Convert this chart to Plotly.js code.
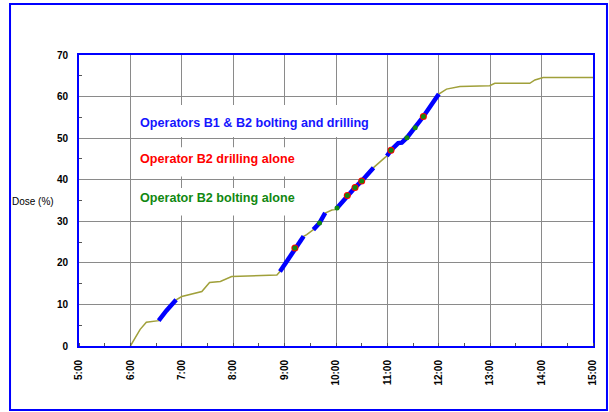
<!DOCTYPE html>
<html>
<head>
<meta charset="utf-8">
<script src="https://cdn.plot.ly/plotly-3.0.1.min.js"></script>
<style>html,body{margin:0;padding:0;background:#fff;}#chart{width:609px;height:412px;}</style>
</head>
<body>
<div id="chart"></div>
<script>
// Cumulative dose (%) vs time of day (decimal hours)
const doseTime  = [6.0, 6.09, 6.19, 6.31, 6.51, 6.55, 6.7, 6.89, 7.0, 7.39, 7.54, 7.75, 7.97, 8.85, 8.91, 9.05, 9.2, 9.37, 9.43, 9.56, 9.68, 9.79, 9.92, 9.98, 10.02, 10.18, 10.22, 10.37, 10.5, 10.6, 10.73, 10.95, 10.99, 11.07, 11.21, 11.28, 11.38, 11.54, 11.7, 11.85, 12.0, 12.15, 12.41, 12.99, 13.09, 13.77, 13.87, 14.03, 15.0];
const doseValue = [0, 1.9, 4.0, 5.7, 6.0, 6.1, 8.5, 11.1, 11.9, 13.1, 15.3, 15.5, 16.7, 17.1, 17.9, 20.6, 23.6, 26.4, 26.8, 28.0, 29.6, 32.0, 32.7, 32.8, 33.2, 35.6, 36.2, 38.1, 39.7, 41.2, 42.9, 45.3, 45.7, 47.1, 48.8, 48.9, 50.1, 52.5, 55.2, 57.9, 60.6, 61.8, 62.4, 62.6, 63.2, 63.2, 64.0, 64.6, 64.6];

// Periods with operators B1 & B2 bolting and drilling (null = gap)
const bothTime  = [6.55, 6.7, 6.89, null, 8.91, 9.05, 9.2, 9.37, null, 9.56, 9.68, 9.79, null, 10.02, 10.18, 10.22, 10.37, 10.5, 10.6, 10.73, null, 10.99, 11.07, 11.21, 11.28, 11.38, 11.54, 11.7, 11.85, 12.0];
const bothValue = [6.1, 8.5, 11.1, null, 17.9, 20.6, 23.6, 26.4, null, 28.0, 29.6, 32.0, null, 33.2, 35.6, 36.2, 38.1, 39.7, 41.2, 42.9, null, 45.7, 47.1, 48.8, 48.9, 50.1, 52.5, 55.2, 57.9, 60.6];

// Operator B2 drilling alone
const drillTime  = [9.2, 10.22, 10.37, 10.5, 11.07, 11.7];
const drillValue = [23.6, 36.2, 38.1, 39.7, 47.1, 55.2];

// Operator B2 bolting alone
const boltTime  = [9.2, 9.68, 10.02, 10.22, 10.37, 10.5, 11.07, 11.38, 11.54, 11.7];
const boltValue = [23.6, 29.6, 33.2, 36.2, 38.1, 39.7, 47.1, 50.1, 52.5, 55.2];

const hourTicks  = [5, 6, 7, 8, 9, 10, 11, 12, 13, 14, 15];
const hourLabels = ['5:00', '6:00', '7:00', '8:00', '9:00', '10:00', '11:00', '12:00', '13:00', '14:00', '15:00'];

const labelTexts = ['Operators B1 & B2 bolting and drilling', 'Operator B2 drilling alone', 'Operator B2 bolting alone'];

const FONT = 'Arial, "Liberation Sans", sans-serif';
const BLUE = '#0000ff';

const traces = [
  {x: doseTime, y: doseValue, type: 'scatter', mode: 'lines',
   line: {color: '#a0a03a', width: 1.5}, hoverinfo: 'skip', showlegend: false},
  {x: bothTime, y: bothValue, type: 'scatter', mode: 'lines', connectgaps: false,
   line: {color: BLUE, width: 4.5}, showlegend: false},
  {x: drillTime, y: drillValue, type: 'scatter', mode: 'markers',
   marker: {color: '#ff0000', size: 7}, showlegend: false},
  {x: boltTime, y: boltValue, type: 'scatter', mode: 'markers',
   marker: {color: '#118811', size: 5}, showlegend: false}
];

const layout = {
  width: 609, height: 412,
  margin: {l: 79, r: 16, t: 55, b: 66},
  paper_bgcolor: '#ffffff', plot_bgcolor: '#ffffff',
  showlegend: false,
  xaxis: {
    range: [5, 15], tickmode: 'array', tickvals: hourTicks, ticktext: hourLabels,
    tickangle: -90, ticks: '', ticklabelstandoff: 8,
    tickfont: {family: FONT, size: 10, color: '#000', weight: 'bold'},
    showgrid: true, gridcolor: '#8a8a8a', gridwidth: 1,
    showline: true, linecolor: BLUE, linewidth: 2, mirror: true, zeroline: false,
    minor: {tickmode: 'linear', tick0: 5, dtick: 0.5, ticks: 'inside', ticklen: 3, tickcolor: '#555', showgrid: false}
  },
  yaxis: {
    range: [0, 70], dtick: 10, ticks: '', ticklabelstandoff: 7,
    tickfont: {family: FONT, size: 10, color: '#000', weight: 'bold'},
    showgrid: true, gridcolor: '#8a8a8a', gridwidth: 1,
    showline: true, linecolor: BLUE, linewidth: 2, mirror: true, zeroline: false,
    minor: {tickmode: 'linear', tick0: 0, dtick: 5, ticks: 'inside', ticklen: 3, tickcolor: '#555', showgrid: false}
  },
  shapes: [
    {type: 'rect', xref: 'paper', yref: 'paper', x0: -0.1342, x1: 1.0272, y0: -0.2199, y1: 1.1753,
     line: {color: BLUE, width: 2}, fillcolor: 'rgba(0,0,0,0)', layer: 'below'},
    {type: 'rect', xref: 'x', yref: 'y', x0: 6.06, x1: 10.7, y0: 50.3, y1: 58.0,
     line: {width: 0}, fillcolor: '#ffffff', layer: 'between'},
    {type: 'rect', xref: 'x', yref: 'y', x0: 6.06, x1: 9.4, y0: 40.8, y1: 47.8,
     line: {width: 0}, fillcolor: '#ffffff', layer: 'between'},
    {type: 'rect', xref: 'x', yref: 'y', x0: 6.06, x1: 9.4, y0: 31.4, y1: 38.0,
     line: {width: 0}, fillcolor: '#ffffff', layer: 'between'}
  ],
  annotations: [
    {text: labelTexts[0], xref: 'x', yref: 'y', x: 6.14, y: 53.7, xanchor: 'left', yanchor: 'middle',
     showarrow: false, font: {family: FONT, size: 12.6, color: '#1515ff', weight: 'bold'}},
    {text: labelTexts[1], xref: 'x', yref: 'y', x: 6.14, y: 44.9, xanchor: 'left', yanchor: 'middle',
     showarrow: false, font: {family: FONT, size: 12.6, color: '#ff0000', weight: 'bold'}},
    {text: labelTexts[2], xref: 'x', yref: 'y', x: 6.14, y: 35.7, xanchor: 'left', yanchor: 'middle',
     showarrow: false, font: {family: FONT, size: 12.6, color: '#118811', weight: 'bold'}},
    {text: 'Dose (%)', xref: 'paper', yref: 'paper', x: -0.044, y: 0.497, xanchor: 'right', yanchor: 'middle',
     showarrow: false, font: {family: FONT, size: 10, color: '#000'}}
  ]
};

Plotly.newPlot('chart', traces, layout, {displayModeBar: false, staticPlot: true});
</script>
</body>
</html>
